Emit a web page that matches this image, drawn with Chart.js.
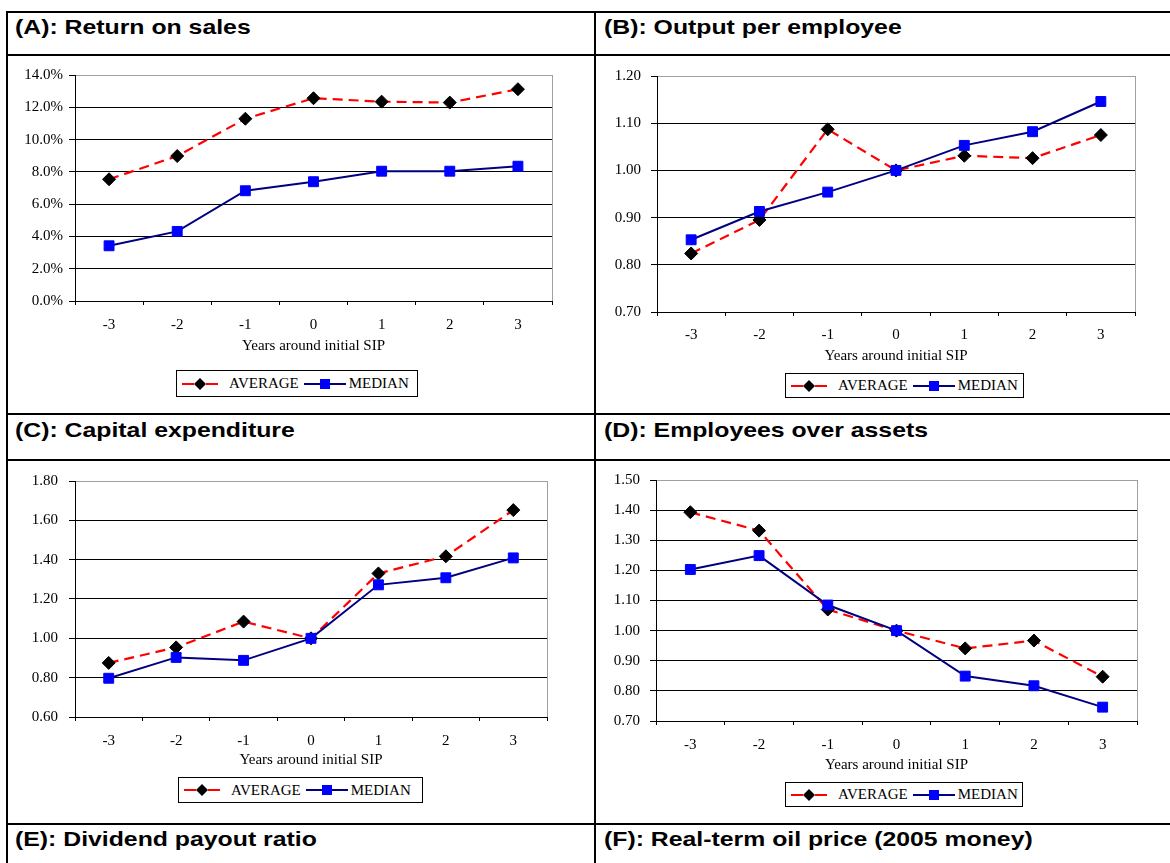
<!DOCTYPE html>
<html>
<head>
<meta charset="utf-8">
<script src="https://cdn.jsdelivr.net/npm/chart.js@4/dist/chart.umd.min.js"></script>
<style>
  html, body { margin:0; padding:0; background:#fff; }
  #page { position:relative; width:1170px; height:863px; overflow:hidden; background:#fff; }
  .hl { position:absolute; height:2px; background:#000; z-index:5; }
  .vl { position:absolute; width:2px; background:#000; z-index:5; }
  .hdr { position:absolute; font-family:'Liberation Sans', Arial, sans-serif; font-weight:bold; font-size:20.5px; line-height:20px; white-space:nowrap; transform:scaleX(1.21); transform-origin:0 0; color:#000; }
  canvas { position:absolute; }
  .legend { position:absolute; box-sizing:border-box; border:1px solid #000; display:flex; align-items:center; font-family:'Liberation Serif','Times New Roman',serif; font-size:15px; color:#000; padding-left:5px; white-space:nowrap; }
  .legend svg { display:block; }
</style>
</head>
<body>
<div id="page">
  <div class="hl" style="left:6px;top:11px;width:1164px"></div>
  <div class="hl" style="left:6px;top:54px;width:1164px"></div>
  <div class="hl" style="left:6px;top:413px;width:1164px"></div>
  <div class="hl" style="left:6px;top:459px;width:1164px"></div>
  <div class="hl" style="left:6px;top:823px;width:1164px"></div>
  <div class="vl" style="left:6px;top:11px;height:852px"></div>
  <div class="vl" style="left:594px;top:11px;height:852px"></div>

  <div class="hdr" style="left:15px;top:17px">(A): Return on sales</div>
  <div class="hdr" style="left:604px;top:17px">(B): Output per employee</div>
  <div class="hdr" style="left:15px;top:420px">(C): Capital expenditure</div>
  <div class="hdr" style="left:604px;top:420px">(D): Employees over assets</div>
  <div class="hdr" style="left:15px;top:829px">(E): Dividend payout ratio</div>
  <div class="hdr" style="left:604px;top:829px">(F): Real-term oil price (2005 money)</div>

  <canvas id="chartA"></canvas>
  <canvas id="chartB"></canvas>
  <canvas id="chartC"></canvas>
  <canvas id="chartD"></canvas>

  <div id="legA" class="legend"></div>
  <div id="legB" class="legend"></div>
  <div id="legC" class="legend"></div>
  <div id="legD" class="legend"></div>
</div>
<script>
// ---------- data ----------
const years = ['-3', '-2', '-1', '0', '1', '2', '3'];
const seriesNames = ['AVERAGE', 'MEDIAN'];
const xTitle = 'Years around initial SIP';

// (A) Return on sales, in percent
const rosAverage = [7.54, 8.98, 11.29, 12.56, 12.35, 12.29, 13.12];
const rosMedian  = [3.42, 4.31, 6.83, 7.39, 8.04, 8.04, 8.35];
const rosTicks   = [0, 14, 2];       // min, max, step

// (B) Output per employee
const opeAverage = [0.824, 0.895, 1.087, 1.000, 1.031, 1.026, 1.075];
const opeMedian  = [0.853, 0.913, 0.954, 1.000, 1.053, 1.082, 1.146];
const opeTicks   = [0.7, 1.2, 0.1];

// (C) Capital expenditure
const capAverage = [0.875, 0.954, 1.085, 1.000, 1.330, 1.417, 1.652];
const capMedian  = [0.797, 0.903, 0.888, 1.000, 1.272, 1.308, 1.409];
const capTicks   = [0.6, 1.8, 0.2];

// (D) Employees over assets
const emaAverage = [1.393, 1.332, 1.070, 1.000, 0.941, 0.967, 0.847];
const emaMedian  = [1.203, 1.249, 1.085, 1.000, 0.849, 0.817, 0.746];
const emaTicks   = [0.7, 1.5, 0.1];

// ---------- styling ----------
const SERIF = "'Liberation Serif','Times New Roman',serif";
const FS = 15;
Chart.defaults.font.family = SERIF;
Chart.defaults.font.size = FS;
Chart.defaults.color = '#000';

const RED = '#ff0000', NAVY = '#000080', BLUE = '#0000ff';

const frameRight = {
  id: 'frameRight',
  beforeDatasetsDraw(chart) {
    const { ctx, chartArea: a } = chart;
    ctx.save();
    ctx.strokeStyle = '#a0a0a0';
    ctx.lineWidth = 1;
    ctx.beginPath();
    const x = Math.round(a.right) + 0.5;
    ctx.moveTo(x, a.top);
    ctx.lineTo(x, a.bottom);
    ctx.stroke();
    ctx.restore();
  }
};

function pctFmt(v) { return Number(v).toFixed(1) + '%'; }
function decFmt(v) { return Number(v).toFixed(2); }

function buildPanel(id, box, plot, labelY, titleY, yGap, yTicks, fmt, avg, med) {
  const cv = document.getElementById(id);
  cv.style.left = box.x + 'px';
  cv.style.top = box.y + 'px';
  cv.width = box.w; cv.height = box.h;
  cv.style.width = box.w + 'px'; cv.style.height = box.h + 'px';
  const tlY = 6, tlX = 4, lh = FS * 1.2;
  const axisBottom = titleY + lh / 2;
  new Chart(cv, {
    type: 'line',
    data: {
      labels: years,
      datasets: [
        {
          label: seriesNames[1], data: med, order: 0,
          borderColor: NAVY, borderWidth: 2, tension: 0,
          pointStyle: 'rect', pointRadius: 7, pointHoverRadius: 7,
          pointBackgroundColor: BLUE, pointBorderColor: BLUE, pointBorderWidth: 1
        },
        {
          label: seriesNames[0], data: avg, order: 1,
          borderColor: RED, borderWidth: 2.2, borderDash: [10, 6], tension: 0,
          pointStyle: 'rectRot', pointRadius: 6.5, pointHoverRadius: 6.5,
          pointBackgroundColor: '#000', pointBorderColor: '#000', pointBorderWidth: 1
        }
      ]
    },
    options: {
      responsive: false, animation: false, devicePixelRatio: 1,
      layout: { padding: { left: 0, top: plot.t - box.y, right: box.x + box.w - plot.r, bottom: box.y + box.h - axisBottom } },
      plugins: { legend: { display: false }, tooltip: { enabled: false } },
      scales: {
        x: {
          offset: true,
          grid: { offset: true, drawOnChartArea: false, drawTicks: true, tickLength: tlX, tickColor: '#000', color: '#000' },
          border: { color: '#000', width: 1 },
          ticks: { padding: labelY - plot.b - tlX - lh / 2, maxRotation: 0, autoSkip: false, color: '#000' },
          title: { display: true, text: xTitle, padding: 0, color: '#000', font: { size: FS } },
          afterFit(s) { s.height = axisBottom - plot.b; }
        },
        y: {
          min: yTicks[0], max: yTicks[1],
          ticks: { stepSize: yTicks[2], padding: yGap - tlY, callback: fmt, color: '#000' },
          grid: {
            color: (c) => (c.tick && Math.abs(c.tick.value - yTicks[1]) < 1e-9 ? '#a0a0a0' : '#000'),
            tickColor: '#000', tickLength: tlY, lineWidth: 1
          },
          border: { color: '#000', width: 1 },
          afterFit(s) { s.width = plot.l - box.x; }
        }
      }
    },
    plugins: [frameRight]
  });
}

function buildLegend(id, box) {
  const el = document.getElementById(id);
  el.style.left = box.x + 'px'; el.style.top = box.y + 'px';
  el.style.width = box.w + 'px'; el.style.height = box.h + 'px';
  const avgIcon = '<svg width="36" height="14"><line x1="0" y1="7" x2="12" y2="7" stroke="' + RED + '" stroke-width="2"/>' +
    '<line x1="24" y1="7" x2="36" y2="7" stroke="' + RED + '" stroke-width="2"/>' +
    '<polygon points="12,7 18,1 24,7 18,13" fill="#000"/></svg>';
  const medIcon = '<svg width="42" height="14"><line x1="0" y1="7" x2="42" y2="7" stroke="' + NAVY + '" stroke-width="2"/>' +
    '<rect x="16" y="2" width="10" height="10" fill="' + BLUE + '"/></svg>';
  el.innerHTML = avgIcon + '<span style="margin-left:11px">' + seriesNames[0] + '</span>' +
    '<span style="margin-left:5px;display:block">' + medIcon + '</span>' +
    '<span style="margin-left:3px">' + seriesNames[1] + '</span>';
}

buildPanel('chartA', { x: 8, y: 57, w: 586, h: 308 }, { l: 75, r: 552, t: 75, b: 301 }, 325, 346, 12, rosTicks, pctFmt, rosAverage, rosMedian);
buildPanel('chartB', { x: 596, y: 57, w: 574, h: 310 }, { l: 657, r: 1135, t: 75, b: 312 }, 335, 356, 16, opeTicks, decFmt, opeAverage, opeMedian);
buildPanel('chartC', { x: 8, y: 461, w: 586, h: 312 }, { l: 75, r: 547, t: 479.5, b: 717 }, 741.5, 760.5, 17, capTicks, decFmt, capAverage, capMedian);
buildPanel('chartD', { x: 596, y: 461, w: 574, h: 318 }, { l: 656, r: 1137, t: 479, b: 721 }, 745, 765, 16, emaTicks, decFmt, emaAverage, emaMedian);

buildLegend('legA', { x: 176, y: 370, w: 242, h: 27 });
buildLegend('legB', { x: 785, y: 373, w: 239, h: 25 });
buildLegend('legC', { x: 178, y: 777, w: 245, h: 26 });
buildLegend('legD', { x: 785, y: 782, w: 238, h: 25 });
</script>
</body>
</html>
